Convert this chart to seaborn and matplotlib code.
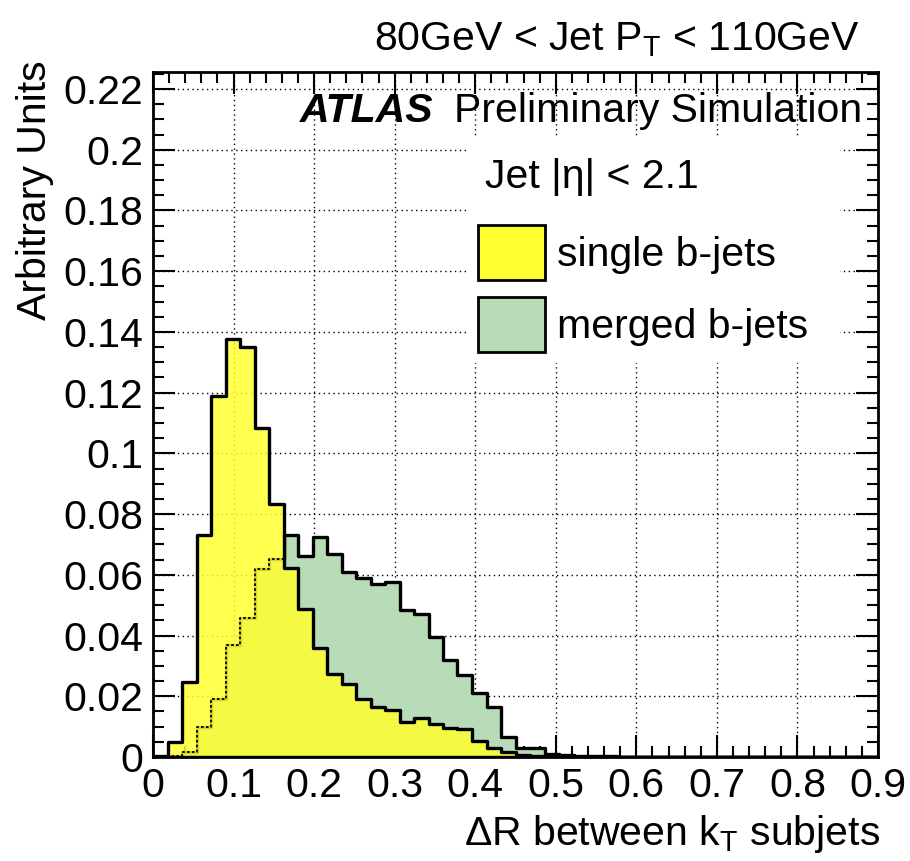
import numpy as np
import pandas as pd
import matplotlib
matplotlib.use("Agg")
import matplotlib.pyplot as plt
import seaborn as sns
from matplotlib.patches import Patch, Rectangle
from matplotlib.ticker import MultipleLocator, FuncFormatter

# ---------------- data ----------------
bin_edges = np.linspace(0.0, 0.9, 51).tolist()          # 50 bins of width 0.018
single_bjets = [0.0003, 0.0049, 0.0247, 0.0730, 0.1189, 0.1376, 0.1351, 0.1085, 0.0833, 0.0621,
                0.0488, 0.0360, 0.0272, 0.0240, 0.0192, 0.0165, 0.0154, 0.0114, 0.0128, 0.0109,
                0.0095, 0.0093, 0.0052, 0.0030, 0.0018, 0.0006, 0.0003, 0.0001, 0.0, 0.0,
                0.0, 0.0, 0.0, 0.0, 0.0, 0.0, 0.0, 0.0, 0.0, 0.0,
                0.0, 0.0, 0.0, 0.0, 0.0, 0.0, 0.0, 0.0, 0.0, 0.0]
merged_bjets = [0.0, 0.0004, 0.0018, 0.0099, 0.0192, 0.0370, 0.0458, 0.0618, 0.0651, 0.0730,
                0.0661, 0.0723, 0.0668, 0.0608, 0.0590, 0.0569, 0.0576, 0.0483, 0.0472, 0.0395,
                0.0320, 0.0269, 0.0211, 0.0166, 0.0067, 0.0030, 0.0029, 0.0010, 0.0008, 0.0004,
                0.0003, 0.0002, 0.0, 0.0, 0.0, 0.0, 0.0, 0.0, 0.0, 0.0,
                0.0, 0.0, 0.0, 0.0, 0.0, 0.0, 0.0, 0.0, 0.0, 0.0]
series_labels = ["single b-jets", "merged b-jets"]
x_ticks = [0, 0.1, 0.2, 0.3, 0.4, 0.5, 0.6, 0.7, 0.8, 0.9]
y_ticks = [0, 0.02, 0.04, 0.06, 0.08, 0.1, 0.12, 0.14, 0.16, 0.18, 0.2, 0.22]

edges_arr = np.array(bin_edges)
centers = 0.5 * (edges_arr[:-1] + edges_arr[1:])
df = pd.DataFrame({"dR": centers, "single": single_bjets, "merged": merged_bjets})

# ---------------- style ----------------
sns.set_theme(style="white")
plt.rcParams["font.family"] = ["Liberation Sans", "DejaVu Sans"]
plt.rcParams["mathtext.fontset"] = "custom"
plt.rcParams["mathtext.rm"] = "Liberation Sans"
plt.rcParams["mathtext.it"] = "Liberation Sans:italic"
plt.rcParams["mathtext.bf"] = "Liberation Sans:bold"
for key in ["text.color", "axes.labelcolor", "xtick.color", "ytick.color", "axes.edgecolor"]:
    plt.rcParams[key] = "black"

FS = 29.5
YELLOW = "#FFFF30"
GREEN = "#B8DCB8"

W, H = 910, 861
fig = plt.figure(figsize=(W / 100, H / 100), dpi=100)
ax = fig.add_axes([153 / W, 1 - 757 / H, 725 / W, 685 / H])

def fx(px):
    return px / W

def fy(py):
    return 1 - py / H

# grid
ax.set_axisbelow(True)
ax.grid(True, which="major", linestyle=(0, (1, 2.5)), color="black", linewidth=1.0)

# white box behind legend region (hides grid)
ax.add_patch(Rectangle((0.4345, 0.575), 0.513, 0.329, transform=ax.transAxes,
                       facecolor="white", edgecolor="none", zorder=0.8))

# histograms
sns.histplot(data=df, x="dR", weights="merged", bins=bin_edges, element="step",
             fill=True, color=GREEN, alpha=1.0, edgecolor="black", linewidth=2.4, ax=ax)
sns.histplot(data=df, x="dR", weights="single", bins=bin_edges, element="step",
             fill=True, color=YELLOW, alpha=0.85, edgecolor="black", linewidth=2.4, ax=ax)
sns.histplot(data=df, x="dR", weights="merged", bins=bin_edges, element="step",
             fill=False, color="black", linewidth=1.3, linestyle=(0, (1.5, 1.2)), ax=ax)

# axes
ax.set_xlim(0, 0.9)
ax.set_ylim(0, 0.2256)
ax.set_xticks(x_ticks)
ax.set_yticks(y_ticks)
fmt = FuncFormatter(lambda v, p: f"{v:g}")
ax.xaxis.set_major_formatter(fmt)
ax.yaxis.set_major_formatter(fmt)
ax.xaxis.set_minor_locator(MultipleLocator(0.02))
ax.yaxis.set_minor_locator(MultipleLocator(0.005))
ax.tick_params(which="both", direction="in", top=True, right=True, bottom=True, left=True,
               color="black", labelcolor="black", width=1.5)
ax.tick_params(which="major", length=16, labelsize=FS, pad=7)
ax.tick_params(which="minor", length=8)
for s in ax.spines.values():
    s.set_linewidth(2.0)
    s.set_color("black")

ax.set_xlabel("\u0394R between k$_{\\mathrm{T}}$ subjets", fontsize=FS, color="black")
ax.xaxis.label.set_ha("right")
ax.xaxis.label.set_va("baseline")
ax.xaxis.set_label_coords(1.003, -0.1285)
ax.set_ylabel("Arbitrary Units", fontsize=FS, color="black")
ax.yaxis.label.set_rotation_mode("anchor")
ax.yaxis.label.set_ha("right")
ax.yaxis.label.set_va("center")
ax.yaxis.set_label_coords(-0.163, 1.0175)

# texts
fig.text(fx(860), fy(50), "80GeV < Jet P$_{\\mathrm{T}}$ < 110GeV", ha="right",
         va="baseline", fontsize=FS, color="black")
fig.text(fx(300), fy(122), "ATLAS", ha="left", va="baseline", fontsize=FS,
         fontweight="bold", fontstyle="italic", color="black")
fig.text(fx(862), fy(122), "Preliminary Simulation", ha="right", va="baseline",
         fontsize=FS, color="black")
fig.text(fx(485), fy(188), "Jet |\u03b7| < 2.1", ha="left", va="baseline", fontsize=FS,
         color="black")

# legend
handles = [Patch(facecolor=YELLOW, edgecolor="black", linewidth=2.0),
           Patch(facecolor=GREEN, edgecolor="black", linewidth=2.0)]
leg = ax.legend(handles, series_labels, loc="upper left",
                bbox_to_anchor=((478 - 153) / 725, (757 - 225) / 685),
                frameon=False, fontsize=FS, borderpad=0, borderaxespad=0,
                handlelength=1.63, handleheight=1.69, handletextpad=0.29, labelspacing=0.41)
for t in leg.get_texts():
    t.set_color("black")

fig.savefig("out.png", dpi=100)
